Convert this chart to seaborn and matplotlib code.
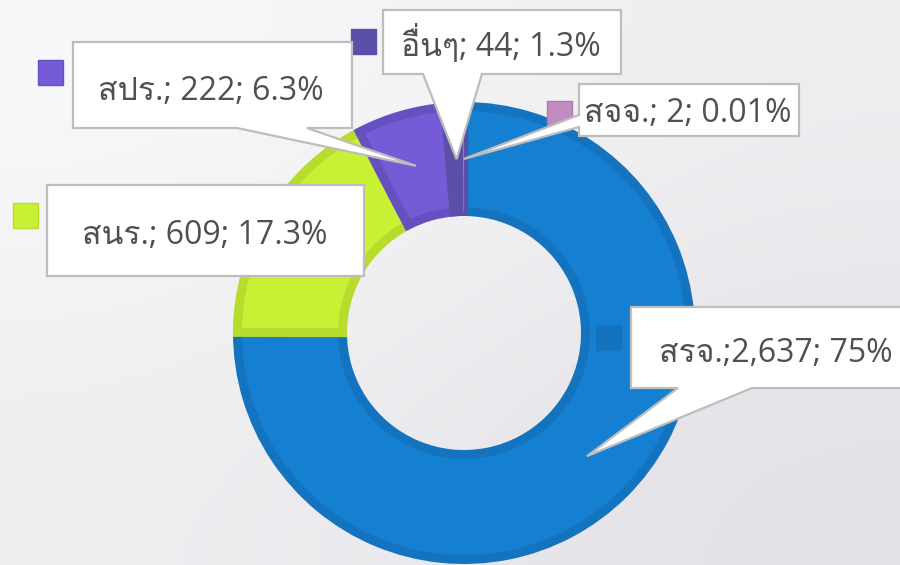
import numpy as np
import seaborn as sns
import matplotlib.pyplot as plt
from matplotlib import font_manager
from matplotlib.ft2font import FT2Font
from matplotlib.patches import Polygon, Rectangle


# data, in the order the slices go round (clockwise from 12 o'clock)
groups = ["สรจ.", "สนร.", "สปร.", "อื่นๆ", "สจจ."]
counts = [2637, 609, 222, 44, 2]
pct_text = ["75%", "17.3%", "6.3%", "1.3%", "0.01%"]
label_text = ["สรจ.;2,637; 75%", "สนร.; 609; 17.3%", "สปร.; 222; 6.3%",
              "อื่นๆ; 44; 1.3%", "สจจ.; 2; 0.01%"]

face = ["#1580d2", "#c8f034", "#765bd6", "#5a50a8", "#c08cc0"]
edge = ["#1473be", "#b8dc2e", "#6650c0", "#5a50a8", "#b07cb0"]


def thai_family():
    # first installed family that has Thai glyphs
    for f in font_manager.fontManager.ttflist:
        try:
            if 0x0E2A in FT2Font(f.fname).get_charmap():
                return f.name
        except Exception:
            pass
    return "DejaVu Sans"


sns.set_theme(style="white")
plt.rcParams["font.family"] = ["Open Sans", thai_family(), "DejaVu Sans"]

H = 565
fig = plt.figure(figsize=(9, 5.65), dpi=100)
ax = fig.add_axes([0, 0, 1, 1])

# background gradient
grad = np.array([[0.0, 0.5], [0.5, 1.0]])
ax.imshow(grad, extent=(0, 900, 0, H), cmap=sns.blend_palette(["#f9f9fa", "#e3e1e6"], as_cmap=True),
          interpolation="bicubic", zorder=0, aspect="auto")

cx, cy, R, W = 464, H - 333, 231, 114
bevel = 9  # px, darker band inside every slice
lw = bevel * 72 / 100
wedges, _ = ax.pie(counts, colors=face, startangle=90, counterclock=False,
                   center=(cx, cy), radius=R - bevel / 2,
                   wedgeprops=dict(width=W - bevel, linewidth=lw, joinstyle="miter"))
for w, ec in zip(wedges, edge):
    arc = np.deg2rad(w.theta2 - w.theta1) * (R - W)
    w.set_edgecolor(ec)
    if arc < bevel:
        w.set_linewidth(0)

ax.set_xlim(0, 900)
ax.set_ylim(0, H)
ax.axis("off")

# label layout in pixels: box (x0, y0, x1, y1), text centre, marker corner, pointer base
boxes = [(631, 307, 910, 388), (47, 185, 364, 276), (73, 42, 352, 128),
         (383, 10, 621, 74), (579, 84, 799, 136)]
text_xy = [(776, 353), (205, 235), (211, 91), (501, 45), (688, 114)]
markers = [(596, 325), (13, 203), (38, 60), (351, 29), (547, 101)]
bases = [("bottom", 678, 752), (None, 0, 0), ("bottom", 237, 307),
         ("bottom", 423, 482), ("left", 115, 127)]

for i, w in enumerate(wedges):
    mid = np.deg2rad((w.theta1 + w.theta2) / 2)
    tip = (cx + (R - W / 2) * np.cos(mid), cy + (R - W / 2) * np.sin(mid))
    x0, y0, x1, y1 = boxes[i]
    side, b0, b1 = bases[i]
    tl, tr, br, bl = (x0, H - y0), (x1, H - y0), (x1, H - y1), (x0, H - y1)
    if side == "bottom":
        pts = [tl, tr, br, (b1, H - y1), tip, (b0, H - y1), bl]
    elif side == "left":
        pts = [tl, tr, br, bl, (x0, H - b1), tip, (x0, H - b0)]
    else:
        pts = [tl, tr, br, bl]
    ax.add_patch(Polygon(pts, closed=True, facecolor="white", edgecolor="#bdbdbd",
                         linewidth=1.6, joinstyle="miter", zorder=5))
    ax.text(text_xy[i][0], H - text_xy[i][1], label_text[i], ha="center", va="center",
            fontsize=23, color="#505050", zorder=6)
    mx, my = markers[i]
    ax.add_patch(Rectangle((mx, H - my - 25), 25, 25, facecolor=edge[i] if i == 0 else face[i],
                           edgecolor=edge[i], linewidth=1, zorder=4))

fig.savefig("out.png", dpi=100)
